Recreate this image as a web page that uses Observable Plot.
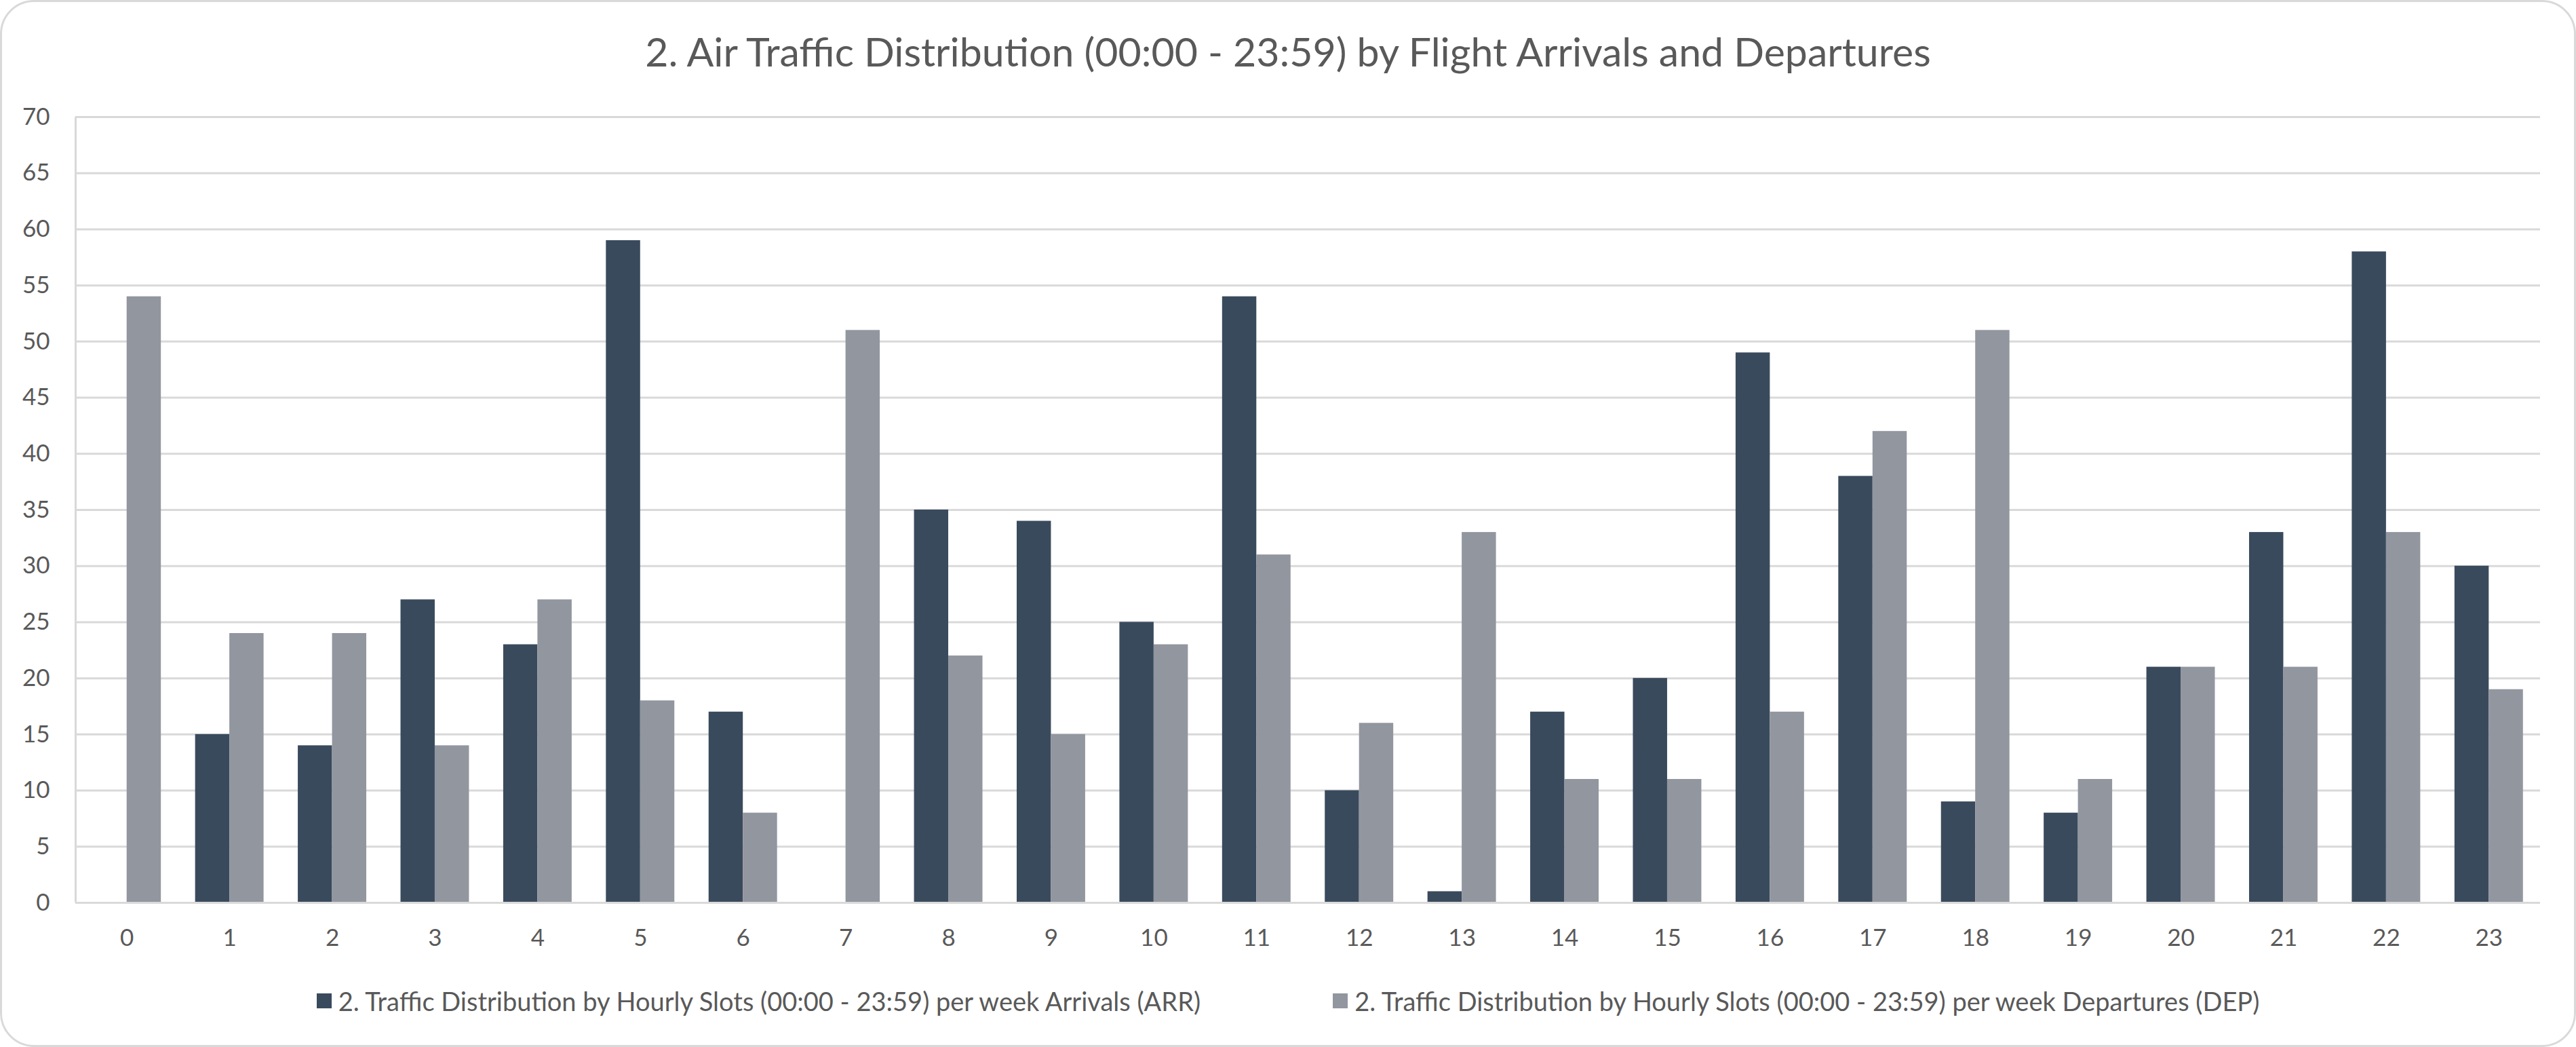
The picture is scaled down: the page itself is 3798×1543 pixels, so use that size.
<!DOCTYPE html>
<html>
<head>
<meta charset="utf-8">
<script src="https://cdn.jsdelivr.net/npm/d3@7"></script>
<script src="https://cdn.jsdelivr.net/npm/@observablehq/plot@0.6"></script>
<style>
  html, body { margin: 0; padding: 0; background: #ffffff; }
  #chart { position: relative; width: 3798px; height: 1543px; background: #ffffff; overflow: hidden;
           font-family: Lato, "Open Sans", "Noto Sans", sans-serif; color: #595959; }
  #frame { position: absolute; left: 0; top: 0; right: 0; bottom: 0; box-sizing: border-box;
           border: 3px solid #d9d9d9; border-radius: 50px; pointer-events: none; }
  #title { position: absolute; left: 0; right: 0; top: 40px; text-align: center; font-size: 59px;
           line-height: 72px; white-space: nowrap; }
  #plot { position: absolute; left: 0; top: 100px; }
  #legend { position: absolute; left: 0; right: 0; top: 1452px; height: 46px; display: flex;
            justify-content: center; align-items: center; font-size: 38px; white-space: nowrap; }
  .item { display: flex; align-items: center; }
  .item + .item { margin-left: 195px; }
  .sw { width: 22px; height: 22px; margin-right: 10px; }
</style>
</head>
<body>
<div id="chart">
  <div id="title"></div>
  <div id="plot"></div>
  <div id="legend"></div>
  <div id="frame"></div>
</div>
<script>
const chartTitle = "2. Air Traffic Distribution (00:00 - 23:59) by Flight Arrivals and Departures";
const hours = [0, 1, 2, 3, 4, 5, 6, 7, 8, 9, 10, 11, 12, 13, 14, 15, 16, 17, 18, 19, 20, 21, 22, 23];
const arrivals   = [0, 15, 14, 27, 23, 59, 17, 0, 35, 34, 25, 54, 10, 1, 17, 20, 49, 38, 9, 8, 21, 33, 58, 30];
const departures = [54, 24, 24, 14, 27, 18, 8, 51, 22, 15, 23, 31, 16, 33, 11, 11, 17, 42, 51, 11, 21, 21, 33, 19];
const seriesNames = [
  "2. Traffic Distribution by Hourly Slots (00:00 - 23:59) per week Arrivals (ARR)",
  "2. Traffic Distribution by Hourly Slots (00:00 - 23:59) per week Departures (DEP)"
];
const seriesColors = ["#3a4a5d", "#92969f"];
const yTicks = [0, 5, 10, 15, 20, 25, 30, 35, 40, 45, 50, 55, 60, 65, 70];

// long table: one row per hour and series; each series takes one third of the hour slot
const slotOffsets = [[-1 / 3, 0], [0, 1 / 3]];
const rows = [];
hours.forEach((h, i) => {
  [arrivals, departures].forEach((vals, s) => {
    rows.push({hour: h, series: seriesNames[s], value: vals[i], lo: h + slotOffsets[s][0], hi: h + slotOffsets[s][1]});
  });
});

document.getElementById("title").textContent = chartTitle;

const grid = "#d9d9d9";
const plot = Plot.plot({
  width: 3798,
  height: 1330,
  marginLeft: 111,
  marginRight: 53,
  marginTop: 72,
  marginBottom: 100,
  style: {fontFamily: "Lato, 'Open Sans', sans-serif", fontSize: "35px", color: "#595959", background: "transparent", overflow: "visible"},
  x: {type: "linear", domain: [hours[0] - 0.5, hours[hours.length - 1] + 0.5]},
  y: {domain: [yTicks[0], yTicks[yTicks.length - 1]]},
  color: {domain: seriesNames, range: seriesColors},
  marks: [
    Plot.ruleY(yTicks, {stroke: grid, strokeWidth: 3}),
    Plot.ruleX([hours[0] - 0.5], {stroke: grid, strokeWidth: 3}),
    Plot.rect(rows, {x1: "lo", x2: "hi", y1: 0, y2: "value", fill: "series", inset: 0}),
    Plot.ruleY([0], {stroke: grid, strokeWidth: 3}),
    Plot.axisY(yTicks, {tickSize: 0, tickPadding: 38, label: null, fill: "#595959", fontSize: 35}),
    Plot.axisX(hours, {tickSize: 0, tickPadding: 39, label: null, tickFormat: d => String(d), fill: "#595959", fontSize: 35})
  ]
});
document.getElementById("plot").appendChild(plot);

const legend = document.getElementById("legend");
seriesNames.forEach((name, i) => {
  const item = document.createElement("div");
  item.className = "item";
  const sw = document.createElement("div");
  sw.className = "sw";
  sw.style.background = seriesColors[i];
  const label = document.createElement("span");
  label.textContent = name;
  item.appendChild(sw);
  item.appendChild(label);
  legend.appendChild(item);
});
</script>
</body>
</html>
